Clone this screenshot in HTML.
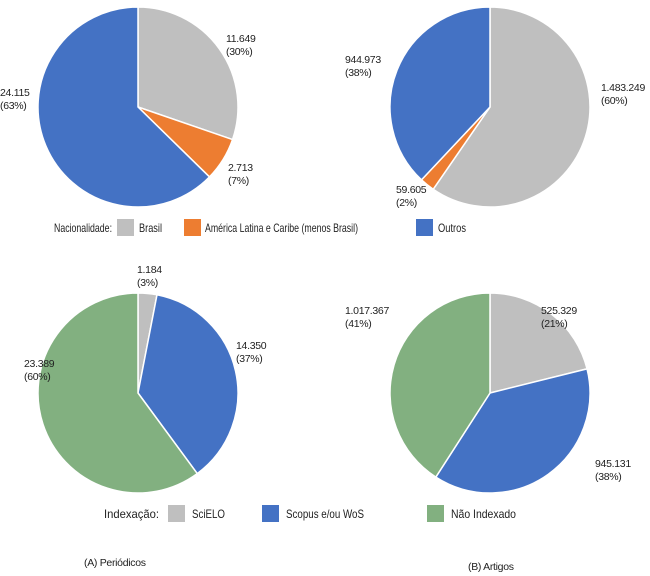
<!DOCTYPE html>
<html><head><meta charset="utf-8"><style>
body{margin:0;background:#fff;}
svg{display:block;font-family:"Liberation Sans",sans-serif;font-size:10.5px;fill:#222;letter-spacing:-0.3px;}
.lg{font-size:12px;letter-spacing:0;}
</style></head><body>
<svg id="c" width="650" height="576" viewBox="0 0 650 576">
<g class="lg">
<text x="54" y="232" textLength="58" lengthAdjust="spacingAndGlyphs">Nacionalidade:</text>
<rect x="117" y="219" width="17" height="17" fill="#BFBFBF"/>
<text x="139" y="232" textLength="23" lengthAdjust="spacingAndGlyphs">Brasil</text>
<rect x="184" y="219" width="17" height="17" fill="#ED7D31"/>
<text x="205" y="232" textLength="153" lengthAdjust="spacingAndGlyphs">América Latina e Caribe (menos Brasil)</text>
<rect x="416" y="219" width="17" height="17" fill="#4472C4"/>
<text x="438" y="232" textLength="28" lengthAdjust="spacingAndGlyphs">Outros</text>
</g>
<g class="lg">
<text x="104" y="518" textLength="55" lengthAdjust="spacingAndGlyphs">Indexação:</text>
<rect x="168" y="505" width="17" height="17" fill="#BFBFBF"/>
<text x="192" y="518" textLength="33" lengthAdjust="spacingAndGlyphs">SciELO</text>
<rect x="262" y="505" width="17" height="17" fill="#4472C4"/>
<text x="286" y="518" textLength="78" lengthAdjust="spacingAndGlyphs">Scopus e/ou WoS</text>
<rect x="427" y="505" width="17" height="17" fill="#82B080"/>
<text x="451" y="518" textLength="65" lengthAdjust="spacingAndGlyphs">Não Indexado</text>
</g>
<text x="84" y="566">(A) Periódicos</text>
<text x="468" y="570">(B) Artigos</text>
</svg>
<script>
const pie1Values=[11649,2713,24115];
const pie1Labels=[["11.649","(30%)"],["2.713","(7%)"],["24.115","(63%)"]];
const pie2Values=[1483249,59605,944973];
const pie2Labels=[["1.483.249","(60%)"],["59.605","(2%)"],["944.973","(38%)"]];
const pie3Values=[1184,14350,23389];
const pie3Labels=[["1.184","(3%)"],["14.350","(37%)"],["23.389","(60%)"]];
const pie4Values=[525329,945131,1017367];
const pie4Labels=[["525.329","(21%)"],["945.131","(38%)"],["1.017.367","(41%)"]];
const colA=["#BFBFBF","#ED7D31","#4472C4"], colB=["#BFBFBF","#4472C4","#82B080"];
const svg=document.getElementById('c'), NS="http://www.w3.org/2000/svg";
function pie(name,cx,cy,r,vals,labels,cols,lpos){
  const g=document.createElementNS(NS,'g');
  
  
  svg.appendChild(g);
  const tot=vals.reduce((a,b)=>a+b,0);let a0=0;
  vals.forEach((v,i)=>{
    const a1=a0+v/tot*2*Math.PI;
    const x0=cx+r*Math.sin(a0),y0=cy-r*Math.cos(a0),x1=cx+r*Math.sin(a1),y1=cy-r*Math.cos(a1);
    const p=document.createElementNS(NS,'path');
    p.setAttribute('d',`M${cx},${cy}L${x0},${y0}A${r},${r} 0 ${a1-a0>Math.PI?1:0} 1 ${x1},${y1}Z`);
    p.setAttribute('fill',cols[i]);p.setAttribute('stroke','#fff');p.setAttribute('stroke-width','1.5');
    
    
    g.appendChild(p);
    const t=document.createElementNS(NS,'text');
    t.setAttribute('x',lpos[i][0]);t.setAttribute('y',lpos[i][1]);
    t.innerHTML=`<tspan x="${lpos[i][0]}">${labels[i][0]}</tspan><tspan x="${lpos[i][0]}" dy="13">${labels[i][1]}</tspan>`;
    
    
    g.appendChild(t);
    a0=a1;
  });
}
pie('pie-periodicos-nacionalidade',138,107,100,pie1Values,pie1Labels,colA,[[226,42],[228,171],[0,96]]);
pie('pie-artigos-nacionalidade',490,107,100,pie2Values,pie2Labels,colA,[[601,91],[396,193],[345,63]]);
pie('pie-periodicos-indexacao',138,393,100,pie3Values,pie3Labels,colB,[[137,273],[236,349],[24,367]]);
pie('pie-artigos-indexacao',490,393,100,pie4Values,pie4Labels,colB,[[541,314],[595,467],[345,314]]);
</script>
</body></html>
